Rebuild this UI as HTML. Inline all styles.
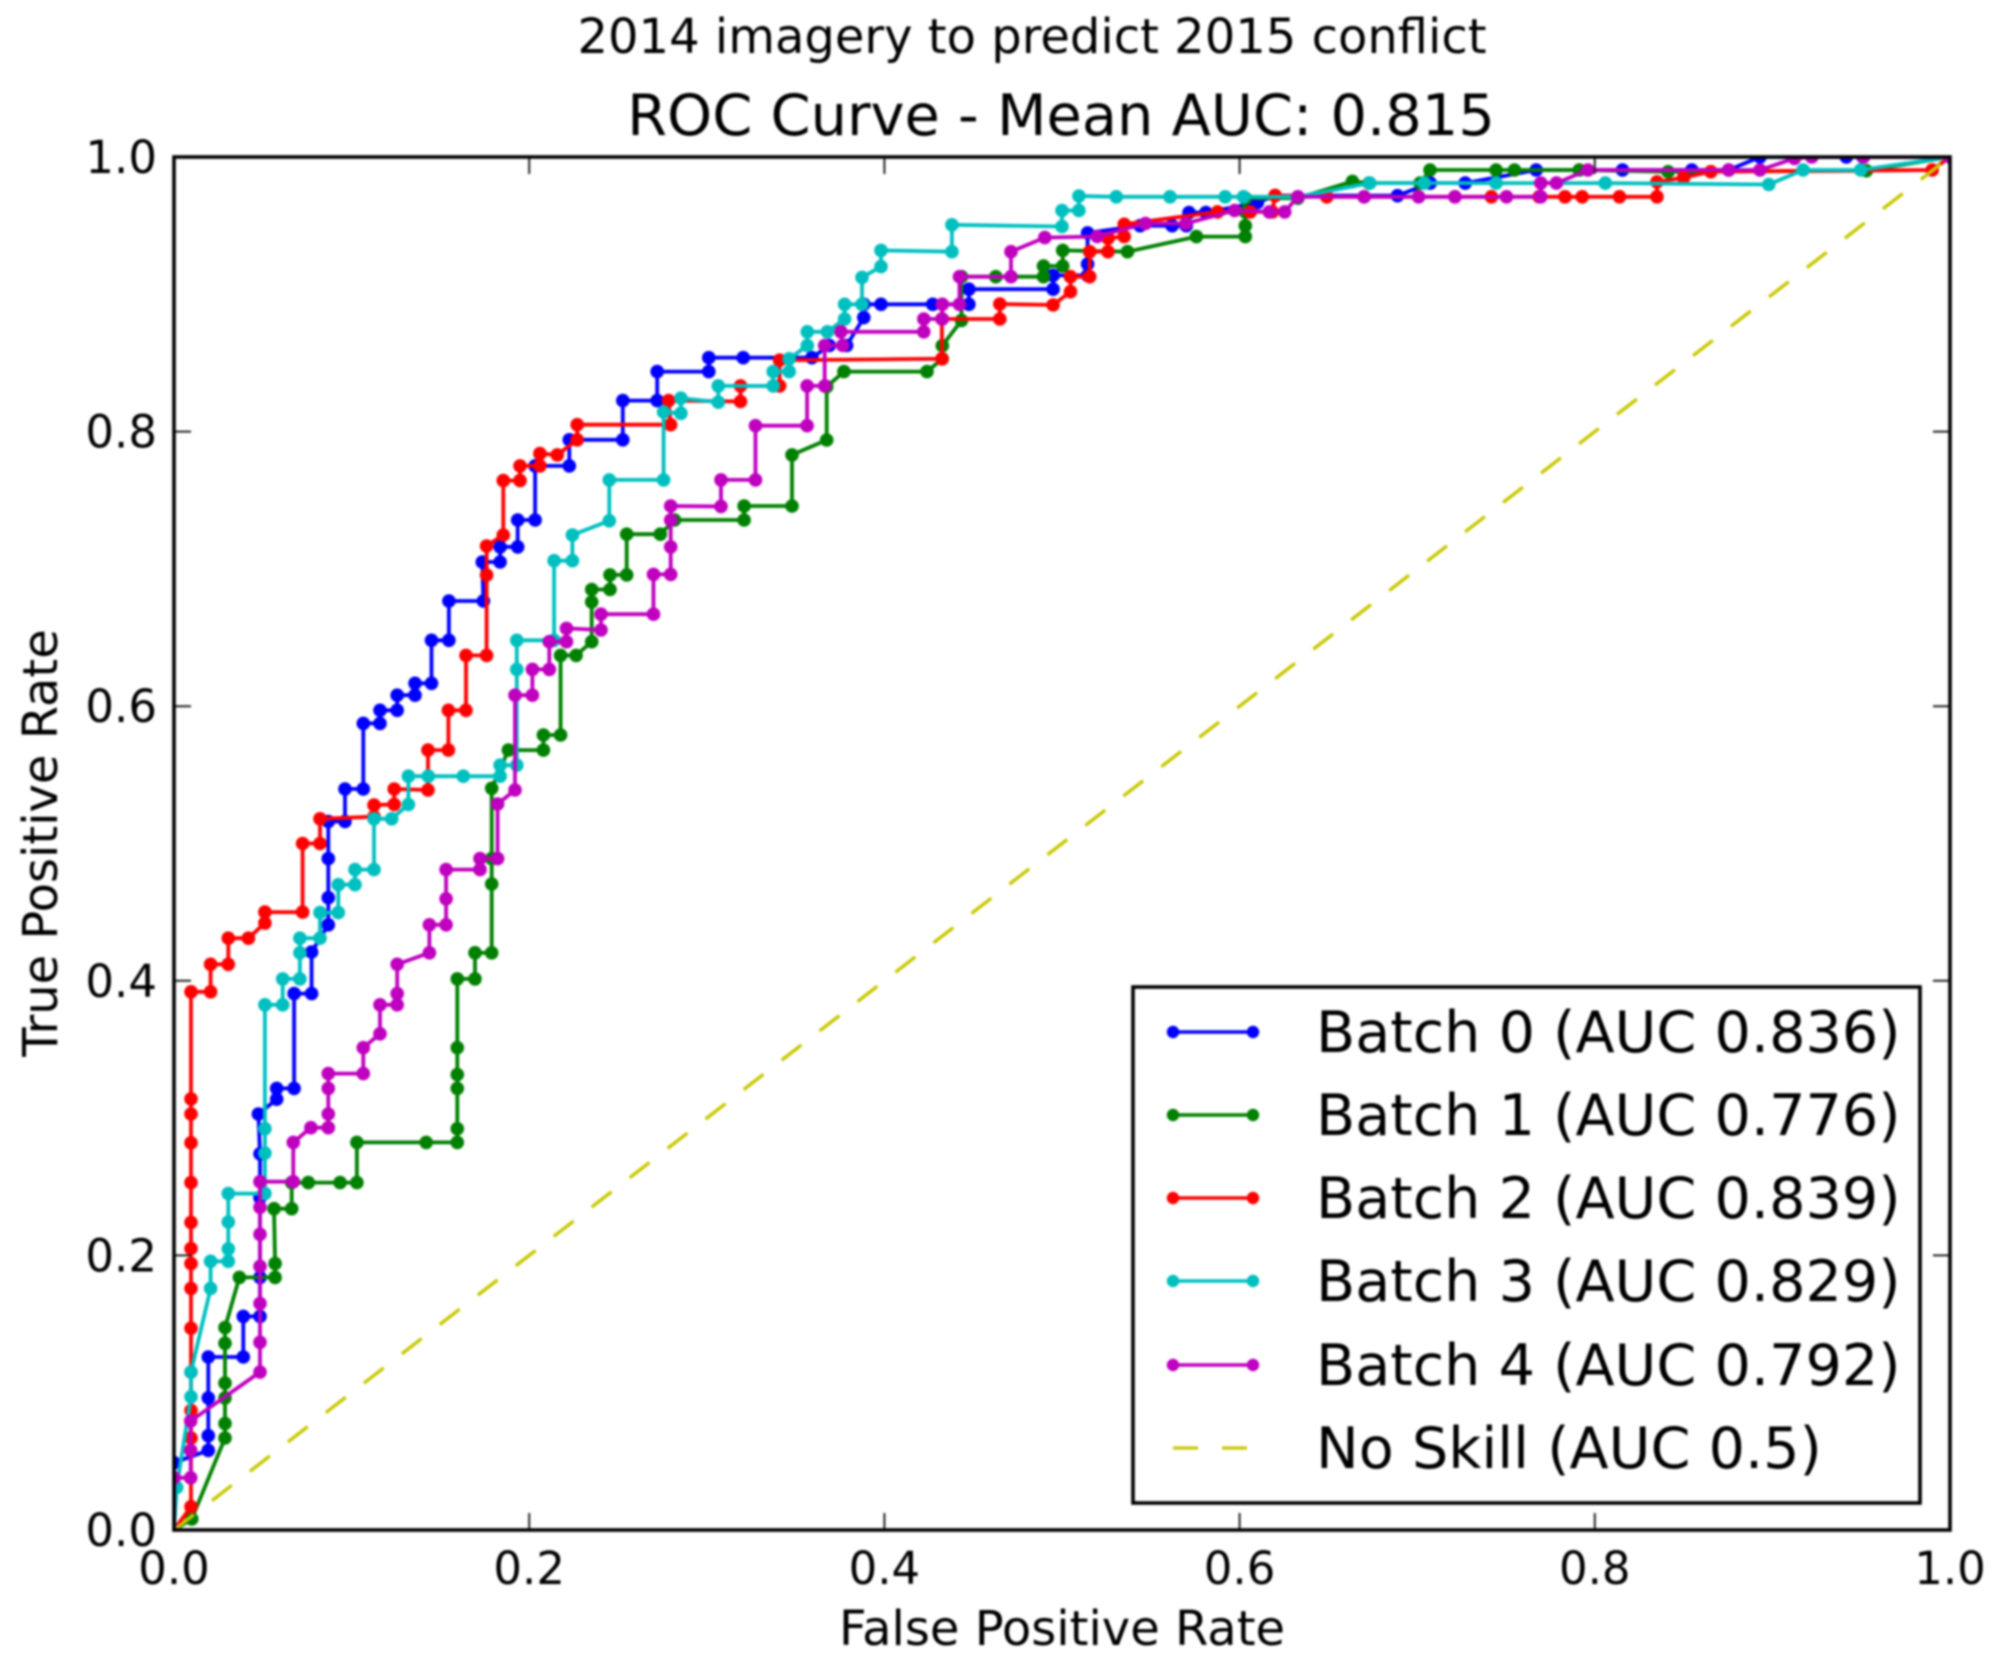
<!DOCTYPE html>
<html lang="en">
<head>
<meta charset="utf-8">
<title>ROC Curve - Mean AUC: 0.815</title>
<style>
html,body{margin:0;padding:0;background:#fff;}
svg{display:block;filter:blur(1px);}
text{font-family:"DejaVu Sans","Liberation Sans",sans-serif;fill:#000;}
</style>
</head>
<body>
<svg id="chart" xmlns="http://www.w3.org/2000/svg" width="2001" height="1664" viewBox="0 0 2001 1664">
  <rect x="0" y="0" width="2001" height="1664" fill="#ffffff"/>
  <defs><clipPath id="plot-clip"><rect x="174" y="157" width="1776" height="1373"/></clipPath></defs>
  <text x="1032" y="53" font-size="48" text-anchor="middle">2014 imagery to predict 2015 conflict</text>
  <text x="1061" y="135" font-size="57.4" text-anchor="middle">ROC Curve - Mean AUC: 0.815</text>
  <g id="series-layer" clip-path="url(#plot-clip)"></g>
  <g id="tick-layer"></g>
  <rect x="174" y="157" width="1776" height="1373" fill="none" stroke="#000" stroke-width="3.6"/>
  <text x="1062" y="1645" font-size="48" text-anchor="middle">False Positive Rate</text>
  <text x="57" y="843" font-size="48" text-anchor="middle" transform="rotate(-90 57 843)">True Positive Rate</text>
  <g>
    <rect x="1133" y="987" width="787" height="516" fill="#fff" stroke="#000" stroke-width="3.6"/>
    <g>
      <line x1="1173" y1="1032" x2="1253" y2="1032" stroke="#0000ff" stroke-width="3.4"/>
      <circle cx="1173" cy="1032" r="6.2" fill="#0000ff"/><circle cx="1253" cy="1032" r="6.2" fill="#0000ff"/>
      <text x="1316" y="1052" font-size="57.2">Batch 0 (AUC 0.836)</text>
    </g>
    <g>
      <line x1="1173" y1="1115" x2="1253" y2="1115" stroke="#008000" stroke-width="3.4"/>
      <circle cx="1173" cy="1115" r="6.2" fill="#008000"/><circle cx="1253" cy="1115" r="6.2" fill="#008000"/>
      <text x="1316" y="1135" font-size="57.2">Batch 1 (AUC 0.776)</text>
    </g>
    <g>
      <line x1="1173" y1="1198" x2="1253" y2="1198" stroke="#ff0000" stroke-width="3.4"/>
      <circle cx="1173" cy="1198" r="6.2" fill="#ff0000"/><circle cx="1253" cy="1198" r="6.2" fill="#ff0000"/>
      <text x="1316" y="1218" font-size="57.2">Batch 2 (AUC 0.839)</text>
    </g>
    <g>
      <line x1="1173" y1="1281" x2="1253" y2="1281" stroke="#00bfbf" stroke-width="3.4"/>
      <circle cx="1173" cy="1281" r="6.2" fill="#00bfbf"/><circle cx="1253" cy="1281" r="6.2" fill="#00bfbf"/>
      <text x="1316" y="1301" font-size="57.2">Batch 3 (AUC 0.829)</text>
    </g>
    <g>
      <line x1="1173" y1="1365" x2="1253" y2="1365" stroke="#bf00bf" stroke-width="3.4"/>
      <circle cx="1173" cy="1365" r="6.2" fill="#bf00bf"/><circle cx="1253" cy="1365" r="6.2" fill="#bf00bf"/>
      <text x="1316" y="1385" font-size="57.2">Batch 4 (AUC 0.792)</text>
    </g>
    <g>
      <line x1="1173" y1="1448" x2="1247" y2="1448" stroke="#c8c800" stroke-width="3.2" stroke-dasharray="25 24"/>
      <text x="1316" y="1468" font-size="57.2">No Skill (AUC 0.5)</text>
    </g>
  </g>
</svg>
<script>
var xTicks = ["0.0","0.2","0.4","0.6","0.8","1.0"];
var yTicks = ["0.0","0.2","0.4","0.6","0.8","1.0"];

var batch0Fpr = [0,0,.0193,.0193,.0193,.0193,.039,.039,.0484,.0484,
  .0484,.0484,.0475,.0578,.0578,.0676,.0676,.0775,.0775,.0869,
  .0869,.0869,.0869,.0963,.0963,.1066,.1066,.116,.116,.1257,
  .1257,.1357,.1357,.145,.145,.1548,.1548,.1742,.1736,.1836,
  .1836,.1935,.1935,.2033,.2033,.2226,.2226,.2527,.2527,.2721,
  .2721,.3011,.3011,.3205,.3592,.369,.3787,.3884,.3884,.3981,
  .4272,.4476,.4476,.495,.495,.5144,.5144,.5144,.544,.562,
  .57,.5715,.581,.61,.62,.6889,.7073,.727,.767,.8156,
  .8546,.8754,.893,.9416,.951,1];
var batch0Tpr = [0,.049,.058,.0687,.0962,.126,.126,.1556,.1556,.184,
  .242,.274,.303,.3138,.3216,.3216,.3907,.3907,.421,.4408,
  .4605,.489,.516,.516,.5397,.5397,.5875,.5875,.597,.597,
  .608,.608,.6167,.6167,.648,.648,.6766,.6766,.705,.705,
  .716,.716,.7356,.7356,.775,.775,.794,.794,.8226,.8226,
  .8437,.8437,.8538,.8538,.8538,.8627,.8627,.883,.8927,.8927,
  .8927,.8927,.9037,.9037,.9138,.9138,.922,.9447,.95,.95,
  .95,.9596,.9596,.9668,.9718,.9718,.981,.981,.9905,.9905,
  .9905,.9905,1,1,1,1];

var batch1Fpr = [0,.01,.0287,.0287,.0287,.0287,.0287,.0287,.0368,.0569,
  .0569,.0563,.0663,.0663,.0756,.0935,.103,.103,.142,.1595,
  .1595,.1595,.1595,.1595,.1595,.1695,.1695,.1789,.1789,.1789,
  .1789,.1883,.208,.208,.2177,.2177,.2264,.2352,.2352,.2352,
  .2455,.2455,.2549,.2549,.2738,.2818,.321,.321,.348,.348,
  .3675,.3675,.3772,.424,.4326,.4326,.4434,.4434,.4627,.4896,
  .4896,.5004,.5004,.5369,.5757,.6032,.6032,.6032,.6032,.6328,
  .6635,.673,.7017,.7072,.7444,.7548,.7913,.8413,.9529,1];
var batch1Tpr = [0,.008,.067,.0776,.0962,.107,.136,.1474,.184,.184,
  .194,.234,.234,.253,.253,.253,.253,.2823,.2823,.2823,
  .2923,.3216,.3317,.3513,.4014,.4014,.4204,.4204,.4705,.489,
  .5402,.568,.568,.579,.579,.637,.637,.647,.676,.685,
  .685,.6956,.6956,.7253,.7253,.7356,.7356,.7458,.7458,.783,
  .7939,.8327,.8437,.8437,.853,.8626,.881,.9128,.9128,.9128,
  .9206,.9206,.932,.931,.942,.942,.95,.96,.97,.97,
  .9822,.981,.981,.9905,.9905,.9905,.9905,.9893,.99,1];

var batch2Fpr = [0,.0096,.0096,.0096,.0096,.0096,.0096,.0096,.0096,.0096,
  .0096,.0096,.0096,.0096,.0096,.0206,.0206,.0306,.0306,.0419,
  .0512,.0512,.0724,.0724,.0822,.0822,.1126,.1126,.124,.124,
  .143,.143,.1545,.1545,.1644,.1644,.176,.176,.176,.1854,
  .1854,.1948,.1948,.206,.206,.2158,.227,.227,.2796,.2785,
  .319,.319,.341,.341,.4324,.4324,.465,.465,.495,.5048,
  .5048,.5156,.5156,.5259,.5259,.535,.535,.5876,.606,.6184,
  .62,.6491,.6701,.7212,.7418,.7687,.7832,.7929,.8139,.835,
  .835,.85,.8653,.99,1];
var batch2Tpr = [0,.017,.067,.087,.115,.147,.176,.194,.205,.224,
  .253,.282,.303,.314,.392,.392,.412,.412,.431,.431,
  .442,.45,.45,.5,.5,.518,.5195,.528,.5285,.5397,
  .539,.568,.568,.597,.597,.637,.637,.6955,.7167,.7247,
  .7643,.7643,.775,.775,.784,.783,.794,.805,.805,.8226,
  .8219,.8333,.8333,.852,.853,.882,.882,.8929,.8922,.9019,
  .9128,.9128,.931,.931,.9408,.9421,.951,.96,.96,.96,
  .972,.971,.971,.971,.971,.971,.971,.971,.971,.971,
  .9819,.985,.9893,.9905,1];

var batch3Fpr = [0,.0015,.0096,.0096,.0206,.0206,.0306,.0306,.0306,.0306,
  .0512,.0512,.0512,.0512,.0612,.0612,.0709,.0709,.0709,.0822,
  .0822,.0925,.0925,.1019,.1019,.1126,.1126,.1226,.132,.132,
  .1432,.1629,.1836,.1836,.193,.193,.193,.214,.214,.2243,
  .2243,.2451,.2451,.2757,.2757,.2854,.2854,.3065,.3065,.3374,
  .3374,.3464,.3464,.3566,.3566,.3679,.3776,.3776,.3874,.3874,
  .3981,.3981,.438,.438,.5,.5,.5095,.5095,.5306,.5608,
  .5919,.6022,.6328,.6733,.704,.7444,.8059,.898,.9173,.9497,
  1];
var batch3Tpr = [0,.031,.097,.115,.176,.1957,.1957,.2047,.2243,.245,
  .245,.2744,.2923,.3825,.3825,.4014,.4014,.4204,.431,.431,
  .4497,.4497,.47,.47,.481,.481,.518,.518,.5284,.549,
  .549,.549,.549,.557,.557,.6268,.648,.648,.706,.706,
  .7247,.735,.7648,.7648,.8143,.8133,.8243,.8214,.8333,.8333,
  .8437,.8437,.853,.8627,.8727,.8727,.882,.8927,.8927,.9123,
  .9202,.932,.931,.9506,.9494,.961,.961,.9716,.971,.971,
  .971,.971,.971,.981,.981,.981,.981,.98,.9905,.9905,
  1];

var batch4Fpr = [0,0,.0094,.0094,.0094,.0484,.0484,.0484,.0484,.0484,
  .0484,.0484,.0672,.0672,.0771,.0869,.0869,.0869,.0869,.1066,
  .1066,.116,.116,.1257,.1257,.1257,.1438,.1438,.1532,.1532,
  .1532,.1723,.1723,.1822,.1822,.192,.192,.2018,.2018,.2113,
  .2113,.221,.221,.2404,.2404,.27,.27,.2797,.2797,.2797,
  .2797,.308,.308,.3274,.3274,.3565,.3565,.3664,.3664,.3765,
  .3755,.4222,.4222,.4326,.4326,.4423,.4423,.4713,.4713,.4903,
  .5198,.547,.5698,.5972,.6167,.6254,.6328,.6701,.7008,.7212,
  .7503,.7696,.7696,.7784,.7961,.8754,.893,.9124,.9222,.9513,
  1];
var batch4Tpr = [0,.038,.038,.058,.0794,.115,.1367,.165,.192,.2154,
  .235,.2537,.2537,.2823,.293,.293,.303,.3216,.3324,.3324,
  .3513,.3614,.3825,.3825,.3907,.412,.4204,.4408,.4408,.4597,
  .481,.481,.489,.489,.5288,.539,.608,.608,.6268,.6268,
  .647,.647,.6567,.6555,.667,.667,.696,.696,.716,.7356,
  .7458,.7455,.7648,.7648,.8043,.8043,.8333,.8333,.8627,.8627,
  .8727,.8727,.882,.882,.8927,.8927,.9128,.9128,.931,.9413,
  .9421,.9516,.9516,.961,.96,.96,.971,.971,.971,.971,
  .971,.971,.981,.981,.9905,.9905,.9905,.999,1,1,
  1];

var noSkillFpr = [0,1];
var noSkillTpr = [0,1];

var SVGNS = "http://www.w3.org/2000/svg";
function xScale(v){ return 174 + v * 1776; }
function yScale(v){ return 1530 - v * 1373; }

function drawSeries(name, color, fpr, tpr){
  var layer = document.getElementById("series-layer");
  var g = document.createElementNS(SVGNS, "g");
  
  
  var n = Math.min(fpr.length, tpr.length);
  var pts = [];
  for (var i = 0; i < n; i++) pts.push(xScale(fpr[i]).toFixed(1) + "," + yScale(tpr[i]).toFixed(1));
  var line = document.createElementNS(SVGNS, "polyline");
  
  
  line.setAttribute("points", pts.join(" "));
  line.setAttribute("fill", "none");
  line.setAttribute("stroke", color);
  line.setAttribute("stroke-width", "3.8");
  g.appendChild(line);
  for (var j = 0; j < n; j++){
    var c = document.createElementNS(SVGNS, "circle");
    
    
    c.setAttribute("cx", xScale(fpr[j]).toFixed(1));
    c.setAttribute("cy", yScale(tpr[j]).toFixed(1));
    c.setAttribute("r", "6.8");
    c.setAttribute("fill", color);
    g.appendChild(c);
  }
  layer.appendChild(g);
}

function drawNoSkill(){
  var layer = document.getElementById("series-layer");
  var l = document.createElementNS(SVGNS, "line");
  
  
  l.setAttribute("x1", xScale(noSkillFpr[0]));
  l.setAttribute("y1", yScale(noSkillTpr[0]));
  l.setAttribute("x2", xScale(noSkillFpr[1]));
  l.setAttribute("y2", yScale(noSkillTpr[1]));
  l.setAttribute("stroke", "#c8c800");
  l.setAttribute("stroke-width", "3.4");
  l.setAttribute("stroke-dasharray", "25 23");
  layer.appendChild(l);
}

function drawTicks(){
  var layer = document.getElementById("tick-layer");
  function seg(name, x1, y1, x2, y2){
    var t = document.createElementNS(SVGNS, "line");
    
    
    t.setAttribute("x1", x1);
    t.setAttribute("y1", y1);
    t.setAttribute("x2", x2);
    t.setAttribute("y2", y2);
    t.setAttribute("stroke", "#222");
    t.setAttribute("stroke-width", "2");
    layer.appendChild(t);
  }
  xTicks.forEach(function(label){
    var v = parseFloat(label), x = xScale(v);
    seg('x-tick-mark', x, 1530, x, 1513);
    seg('x-tick-mark-top', x, 157, x, 174);
    var t = document.createElementNS(SVGNS, "text");
    
    
    t.setAttribute("x", x);
    t.setAttribute("y", 1584);
    t.setAttribute("font-size", "45");
    t.setAttribute("text-anchor", "middle");
    t.textContent = label;
    layer.appendChild(t);
  });
  yTicks.forEach(function(label){
    var v = parseFloat(label), y = yScale(v);
    seg('y-tick-mark', 174, y, 191, y);
    seg('y-tick-mark-right', 1950, y, 1933, y);
    var t = document.createElementNS(SVGNS, "text");
    
    
    t.setAttribute("x", 157);
    t.setAttribute("y", y + 16);
    t.setAttribute("font-size", "45");
    t.setAttribute("text-anchor", "end");
    t.textContent = label;
    layer.appendChild(t);
  });
}

drawSeries('series-batch-0', '#0000ff', batch0Fpr, batch0Tpr);
drawSeries('series-batch-1', '#008000', batch1Fpr, batch1Tpr);
drawSeries('series-batch-2', '#ff0000', batch2Fpr, batch2Tpr);
drawSeries('series-batch-3', '#00bfbf', batch3Fpr, batch3Tpr);
drawSeries('series-batch-4', '#bf00bf', batch4Fpr, batch4Tpr);
drawNoSkill();
drawTicks();
</script>
</body>
</html>
